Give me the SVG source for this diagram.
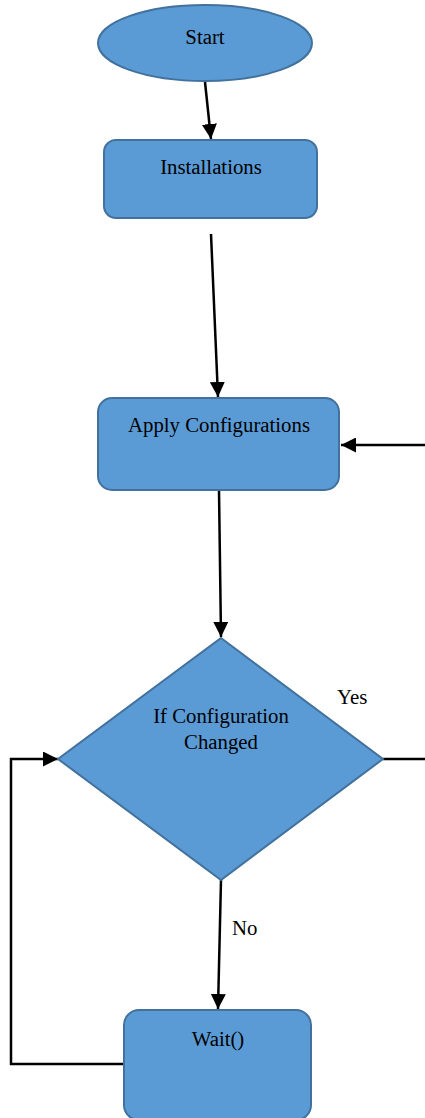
<svg xmlns="http://www.w3.org/2000/svg" width="425" height="1118" viewBox="0 0 425 1118">
<defs>
<style>
.n{fill:#5B9BD5;stroke:#41719C;stroke-width:2}
.t{font-family:'Liberation Serif','Times New Roman',serif;font-size:20.8px;fill:#000;text-anchor:middle}
.l{font-family:'Liberation Serif','Times New Roman',serif;font-size:20.8px;fill:#000}
.c{fill:none;stroke:#000;stroke-width:2.5}
</style>
<marker id="a" viewBox="0 0 14 14" refX="14" refY="7" markerWidth="15" markerHeight="15" orient="auto" markerUnits="userSpaceOnUse">
<path d="M0,0L14,7L0,14Z" fill="#000"/>
</marker>
</defs>
<rect width="425" height="1118" fill="#fff"/>
<g id="connectors">
<path class="c" d="M205,82L211,139" marker-end="url(#a)"/>
<path class="c" d="M211,234L218,397" marker-end="url(#a)"/>
<path class="c" d="M425,445L341,445" marker-end="url(#a)"/>
<path class="c" d="M219,490L221,637" marker-end="url(#a)"/>
<path class="c" d="M383,759L425,759"/>
<path class="c" d="M221,880L218,1009" marker-end="url(#a)"/>
<path class="c" d="M125,1064L11,1064L11,759L58,759" marker-end="url(#a)"/>
</g>
<g id="start">
<ellipse class="n" cx="205" cy="43" rx="107" ry="38"/>
<text class="t" x="205" y="44" font-family="Liberation Serif">Start</text>
</g>
<g id="installations">
<rect class="n" x="104" y="140" width="213" height="78" rx="12"/>
<text class="t" x="211" y="174" font-family="Liberation Serif">Installations</text>
</g>
<g id="apply">
<rect class="n" x="98" y="398" width="241" height="92" rx="14"/>
<text class="t" x="219" y="432" font-family="Liberation Serif">Apply Configurations</text>
</g>
<g id="decision">
<polygon class="n" points="221,638 383,759 221,880 58,759"/>
<text class="t" x="221" y="723" font-family="Liberation Serif">If Configuration</text>
<text class="t" x="221" y="749" font-family="Liberation Serif">Changed</text>
</g>
<g id="wait">
<rect class="n" x="124" y="1010" width="187" height="110" rx="15"/>
<text class="t" x="218" y="1046" font-family="Liberation Serif">Wait()</text>
</g>
<g id="labels">
<text class="l" x="337" y="704" font-family="Liberation Serif">Yes</text>
<text class="l" x="232" y="935" font-family="Liberation Serif">No</text>
</g>
</svg>
